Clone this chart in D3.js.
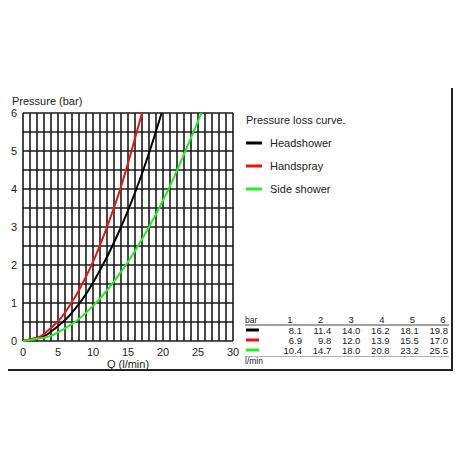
<!DOCTYPE html>
<html><head><meta charset="utf-8">
<script src="https://cdn.jsdelivr.net/npm/d3@7"></script>
<style>body{margin:0;background:#fff}svg{display:block;font-family:"Liberation Sans",Arial,sans-serif}</style>
</head><body><svg id="c" width="460" height="460"></svg>
<script>
// Pressure values (bar) at which flow is tabulated /
const pressure = [0, 0.1, 0.25, 0.5, 1, 2, 3, 4, 5, 6];
const headshowerQ = [0, 2.6, 4.0, 5.7, 8.1, 11.4, 14.0, 16.2, 18.1, 19.8];
const handsprayQ  = [0, 2.2, 3.4, 4.9, 6.9, 9.8, 12.0, 13.9, 15.5, 17.0];
const sideQ       = [0, 3.3, 5.2, 7.4, 10.4, 14.7, 18.0, 20.8, 23.2, 25.5];
const seriesNames = ["Headshower", "Handspray", "Side shower"];
const seriesColors = ["#000000", "#ee1111", "#22ee22"];
const tableBars = ["1", "2", "3", "4", "5", "6"];
const tableHead = ["8.1", "11.4", "14.0", "16.2", "18.1", "19.8"];
const tableHand = ["6.9", "9.8", "12.0", "13.9", "15.5", "17.0"];
const tableSide = ["10.4", "14.7", "18.0", "20.8", "23.2", "25.5"];
const xTicks = [0, 5, 10, 15, 20, 25, 30];
const yTicks = [0, 1, 2, 3, 4, 5, 6];

const svg = d3.select("#c");
const x = d3.scaleLinear().domain([0, 30]).range([23, 233]);
const y = d3.scaleLinear().domain([0, 6]).range([341, 113]);

// frame (right and bottom)
svg.append("line").attr("x1", 452).attr("x2", 452).attr("y1", 88).attr("y2", 370).attr("stroke", "#222").attr("stroke-width", 2);
svg.append("line").attr("x1", 8).attr("x2", 453).attr("y1", 370).attr("y2", 370).attr("stroke", "#222").attr("stroke-width", 2);

// grid
const g = svg.append("g");
g.selectAll("line.v").data(d3.range(0, 31)).join("line")
  .attr("x1", d => x(d)).attr("x2", d => x(d)).attr("y1", y(0)).attr("y2", y(6))
  .attr("stroke", "#1a1a1a").attr("stroke-width", 1.6);
g.selectAll("line.h").data(d3.range(0, 13).map(i => i / 2)).join("line")
  .attr("x1", x(0)).attr("x2", x(30)).attr("y1", d => y(d)).attr("y2", d => y(d))
  .attr("stroke", "#1a1a1a").attr("stroke-width", 1.6);

// axes labels
svg.selectAll("text.xt").data(xTicks).join("text")
  .attr("x", d => x(d)).attr("y", 356).attr("text-anchor", "middle")
  .attr("font-size", 11).attr("fill", "#222").text(d => d);
svg.selectAll("text.yt").data(yTicks).join("text")
  .attr("x", 17).attr("y", d => y(d) + 4).attr("text-anchor", "end")
  .attr("font-size", 11).attr("fill", "#222").text(d => d);
svg.append("text").attr("x", 12).attr("y", 105).attr("font-size", 11).attr("fill", "#222").text("Pressure (bar)");
svg.append("text").attr("x", 128).attr("y", 368).attr("text-anchor", "middle").attr("font-size", 11).attr("fill", "#222").text("Q (l/min)");

// curves
const seriesQ = [headshowerQ, handsprayQ, sideQ];
const line = d3.line().x(d => x(d[0])).y(d => y(d[1])).curve(d3.curveMonotoneY);
seriesQ.forEach((qs, i) => {
  svg.append("path").datum(qs.map((q, j) => [q, pressure[j]]))
    .attr("d", line).attr("fill", "none").attr("stroke", seriesColors[i]).attr("stroke-width", 2);
});

// legend
svg.append("text").attr("x", 246).attr("y", 124).attr("font-size", 11).attr("fill", "#222").text("Pressure loss curve.");
const ly = d3.scalePoint().domain(seriesNames).range([143, 189]);
seriesNames.forEach((n, i) => {
  svg.append("line").attr("x1", 246).attr("x2", 262).attr("y1", ly(n)).attr("y2", ly(n))
    .attr("stroke", seriesColors[i]).attr("stroke-width", 3);
  svg.append("text").attr("x", 270).attr("y", ly(n) + 4).attr("font-size", 11).attr("fill", "#222").text(n);
});

// table
const hx = d3.scalePoint().domain(tableBars).range([290, 443]);
const vx = d3.scalePoint().domain(tableBars).range([302, 448]);
svg.append("text").attr("x", 245).attr("y", 322.5).attr("font-size", 8.5).attr("fill", "#222").text("bar");
svg.selectAll("text.hd").data(tableBars).join("text")
  .attr("x", d => hx(d)).attr("y", 322.5).attr("text-anchor", "middle")
  .attr("font-size", 9.5).attr("fill", "#222").text(d => d);
svg.append("line").attr("x1", 245).attr("x2", 449).attr("y1", 325).attr("y2", 325).attr("stroke", "#444").attr("stroke-width", 1);
const rows = [tableHead, tableHand, tableSide];
const ry = d3.scalePoint().domain([0, 1, 2]).range([330, 350]);
rows.forEach((r, i) => {
  svg.append("line").attr("x1", 246).attr("x2", 259).attr("y1", ry(i)).attr("y2", ry(i))
    .attr("stroke", seriesColors[i]).attr("stroke-width", 3);
  svg.selectAll("text.r" + i).data(r).join("text")
    .attr("x", (d, j) => vx(tableBars[j])).attr("y", ry(i) + 3.5).attr("text-anchor", "end")
    .attr("font-size", 9.5).attr("fill", "#222").text(d => d);
});
svg.append("line").attr("x1", 245).attr("x2", 449).attr("y1", 356.5).attr("y2", 356.5).attr("stroke", "#999").attr("stroke-width", 0.8);
svg.append("text").attr("x", 245).attr("y", 364).attr("font-size", 8.5).attr("fill", "#222").text("l/min");
</script></body></html>
